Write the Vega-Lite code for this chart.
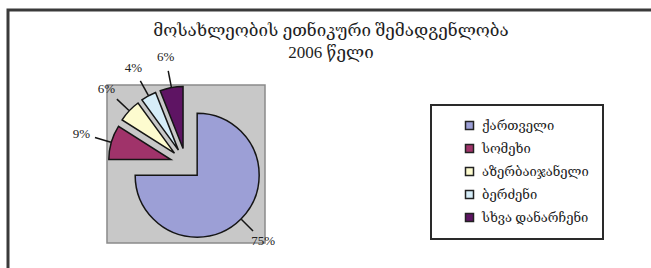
{
  "$schema": "https://vega.github.io/schema/vega-lite/v6.json",
  "autosize": {"type": "none"},
  "padding": {"left": 8, "top": 10, "right": 0, "bottom": 0},
  "width": 660,
  "height": 280,
  "background": "white",
  "view": {"stroke": "#3a3a3a", "strokeWidth": 3, "fill": "white"},
  "config": {"legend": {"strokeWidth": 2}},
  "title": {
    "text": ["მოსახლეობის ეთნიკური შემადგენლობა", "2006 წელი"],
    "anchor": "middle",
    "frame": "group",
    "dx": -7,
    "offset": -52,
    "font": "Liberation Serif, DejaVu Serif",
    "fontSize": 17,
    "fontWeight": "normal",
    "color": "#1e1e1e",
    "lineHeight": 22
  },
  "data": {
    "values": [
      {"group": "ქართველი", "value": 75},
      {"group": "სომეხი", "value": 9},
      {"group": "აზერბაიჯანელი", "value": 6},
      {"group": "ბერძენი", "value": 4},
      {"group": "სხვა დანარჩენი", "value": 6}
    ]
  },
  "layer": [
    {
      "data": {"values": [{"area": "plot"}]},
      "transform": [
        {"calculate": "-1", "as": "lo"},
        {"calculate": "1", "as": "hi"}
      ],
      "mark": {"type": "rect", "fill": "#c8c8c8", "stroke": "#8a8a8a", "strokeWidth": 1.5},
      "encoding": {
        "x": {"field": "lo", "type": "quantitative", "scale": {"domain": [-2.253, 6.101], "zero": false, "nice": false}, "axis": null},
        "x2": {"field": "hi"},
        "y": {"field": "lo", "type": "quantitative", "scale": {"domain": [-1.595, 1.949], "zero": false, "nice": false}, "axis": null},
        "y2": {"field": "hi"}
      }
    },
    {
      "transform": [
        {"window": [{"op": "sum", "field": "value", "as": "cum"}]},
        {"calculate": "datum.cum - datum.value", "as": "start"},
        {"calculate": "(datum.cum - datum.value / 2) / 100 * 2 * PI", "as": "mid"},
        {"calculate": "0.2 * sin(datum.mid)", "as": "cx"},
        {"calculate": "0.2 * cos(datum.mid)", "as": "cy"},
        {"calculate": "0.99 * sin(datum.mid)", "as": "ex0"},
        {"calculate": "0.99 * cos(datum.mid)", "as": "ey0"},
        {"calculate": "1.2 * sin(datum.mid)", "as": "ex1"},
        {"calculate": "1.2 * cos(datum.mid)", "as": "ey1"},
        {"calculate": "1.38 * sin(datum.mid)", "as": "lx"},
        {"calculate": "1.38 * cos(datum.mid)", "as": "ly"},
        {"calculate": "datum.value + '%'", "as": "label"}
      ],
      "layer": [
        {
          "mark": {"type": "arc", "radius": 62, "stroke": "#151515", "strokeWidth": 1.5},
          "encoding": {
            "theta": {"field": "start", "type": "quantitative", "stack": null, "scale": {"domain": [0, 100]}},
            "theta2": {"field": "cum"},
            "x": {"field": "cx", "type": "quantitative", "axis": null},
            "y": {"field": "cy", "type": "quantitative", "axis": null},
            "color": {
              "field": "group",
              "type": "nominal",
              "sort": null,
              "scale": {"range": ["#9c9fd6", "#a0336a", "#fdfbcf", "#d6edf8", "#5e1463"]},
              "legend": {
                "title": null,
                "orient": "none",
                "legendX": 423,
                "legendY": 95,
                "strokeColor": "#2a2a2a",
                "fillColor": "white",
                "padding": 14,
                "symbolOffset": 18,
                "symbolType": "square",
                "symbolSize": 64,
                "symbolStrokeColor": "#222222",
                "symbolStrokeWidth": 1.5,
                "labelFont": "Liberation Serif, DejaVu Serif",
                "labelFontSize": 13,
                "labelOffset": 6,
                "labelColor": "#222222",
                "labelLimit": 300,
                "rowPadding": 8
              }
            }
          }
        },
        {
          "mark": {"type": "rule", "color": "#151515", "strokeWidth": 1.5},
          "encoding": {
            "x": {"field": "ex0", "type": "quantitative"},
            "y": {"field": "ey0", "type": "quantitative"},
            "x2": {"field": "ex1"},
            "y2": {"field": "ey1"}
          }
        },
        {
          "mark": {"type": "text", "font": "Liberation Serif, DejaVu Serif", "fontSize": 13, "color": "#222222"},
          "encoding": {
            "x": {"field": "lx", "type": "quantitative"},
            "y": {"field": "ly", "type": "quantitative"},
            "text": {"field": "label"}
          }
        }
      ]
    }
  ]
}
